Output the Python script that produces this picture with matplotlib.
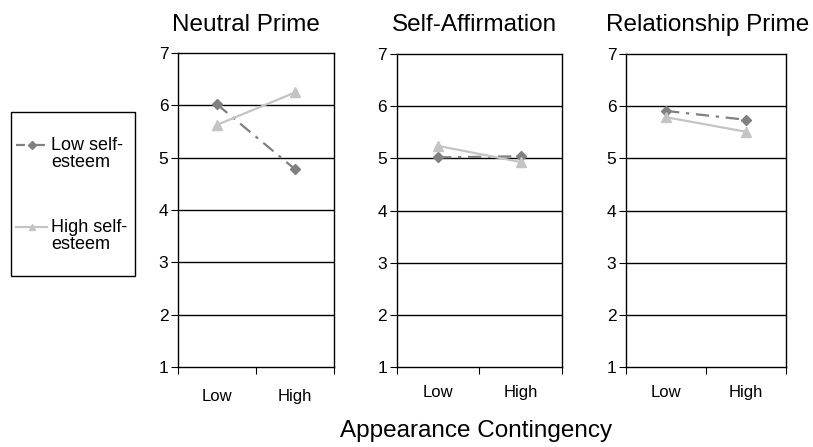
import matplotlib
matplotlib.use("Agg")
import matplotlib.pyplot as plt
from matplotlib.lines import Line2D
from matplotlib.patches import Rectangle

plt.rcParams["font.family"] = ["Liberation Sans", "DejaVu Sans"]

# ── Data ──────────────────────────────────────────────────────────────────────
panels = ["Neutral Prime", "Self-Affirmation", "Relationship Prime"]
conditions = ["Low", "High"]
low_se = [[6.02, 4.78], [5.02, 5.04], [5.91, 5.74]]
high_se = [[5.63, 6.25], [5.24, 4.93], [5.79, 5.51]]
series_labels = ["Low self-\nesteem", "High self-\nesteem"]
y_ticks = [1, 2, 3, 4, 5, 6, 7]

LOW_COLOR = "#808080"
HIGH_COLOR = "#c4c4c4"
W, H = 813, 447


def px(x, y):
    """pixel position (from top-left) -> figure fraction"""
    return x / W, 1 - y / H


# ── Layout (figure fractions) ────────────────────────────────────────────────
fig = plt.figure(figsize=(W / 100, H / 100), dpi=100)
axes_rects = [
    (0.219, 0.179, 0.192, 0.702),
    (0.488, 0.179, 0.203, 0.700),
    (0.770, 0.179, 0.197, 0.700),
]
title_x = [0.303, 0.583, 0.870]

for i, rect in enumerate(axes_rects):
    ax = fig.add_axes(rect)
    xs = [0.5, 1.5]
    ax.plot(xs, low_se[i], color=LOW_COLOR, linestyle=(0, (6, 3, 1.5, 3)),
            lw=1.6, marker="D", ms=5, zorder=3)
    ax.plot(xs, high_se[i], color=HIGH_COLOR, linestyle="-",
            lw=1.6, marker="^", ms=7, zorder=3)

    ax.set_xlim(0, 2)
    ax.set_ylim(1, 7)
    ax.set_yticks(y_ticks)
    ax.set_yticklabels([str(t) for t in y_ticks], fontsize=12.5)
    for t in y_ticks[1:-1]:
        ax.axhline(t, color="black", lw=1.0, zorder=1)

    # category boundaries carry the tick marks, labels sit at the centres
    ax.set_xticks([0, 1, 2])
    ax.set_xticklabels([])
    ax.set_xticks(xs, minor=True)
    ax.set_xticklabels(conditions, minor=True, fontsize=12)
    ax.tick_params(axis="x", which="minor", length=0, pad=13 if i else 16)
    ax.tick_params(axis="x", which="major", length=5, direction="out")
    ax.tick_params(axis="y", length=5, direction="out", pad=2)

    for s in ax.spines.values():
        s.set_color("black")
        s.set_linewidth(1.0)

    fig.text(title_x[i], 0.944, panels[i], ha="center", va="center", fontsize=17.5)

fig.text(476 / W, 10 / H, "Appearance Contingency", ha="center", va="baseline",
         fontsize=17.5)

# ── Legend, drawn by hand so the keys sit on the first text line ─────────────
fig.patches.append(Rectangle(px(11, 276), 124 / W, 164 / H, transform=fig.transFigure,
                             fill=False, edgecolor="black", lw=1.0))

key_lines = [
    dict(color=LOW_COLOR, linestyle=(0, (4, 2, 1, 2))),
    dict(color=HIGH_COLOR, linestyle="-"),
]
key_marks = [
    dict(color=LOW_COLOR, marker="D", ms=4),
    dict(color=HIGH_COLOR, marker="^", ms=5),
]
key_y = [145, 227]
for label, line, mark, y in zip(series_labels, key_lines, key_marks, key_y):
    (x0, yf), (x1, _) = px(16, y), px(47, y)
    fig.add_artist(Line2D([x0, x1], [yf, yf], transform=fig.transFigure,
                          lw=1.6, **line))
    fig.add_artist(Line2D([(x0 + x1) / 2], [yf], transform=fig.transFigure,
                          lw=0, **mark))
    fig.text(*px(51, y - 8), label, ha="left", va="top", fontsize=13,
             linespacing=1.0)

fig.savefig("out.png", dpi=100)
